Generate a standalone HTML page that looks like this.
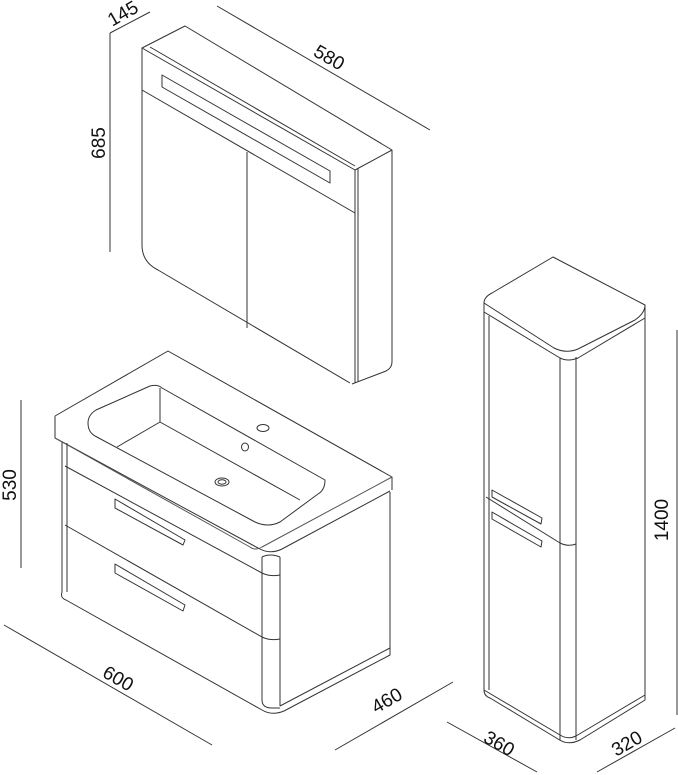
<!DOCTYPE html>
<html><head><meta charset="utf-8"><style>
html,body{margin:0;padding:0;background:#fff;}
svg{display:block}
text{font-family:"Liberation Sans",sans-serif;font-size:19px;fill:#111;}
</style></head><body>
<svg width="678" height="775" viewBox="0 0 678 775" xmlns="http://www.w3.org/2000/svg">
<g fill="none" stroke="#333" stroke-width="1" stroke-linejoin="round">
<!-- Mirror cabinet -->
<path d="M142,48 L185,26 L392,150 L355,170 Z"/>
<path d="M150,47 L355,166"/>
<path d="M142,48 L142,245 Q142,262 158,270 L350,383"/>
<path d="M355,170 L355,383"/>
<path d="M358,168 L358,382"/>
<path d="M392,150 L392,362 Q392,368 386,371 L352,384"/>
<path d="M162,75 L162,87 L330,183 L330,171 Z"/>
<path d="M142,90 L355,213"/>
<path d="M247,152 L247,328"/>
<!-- 145 / 685 / 580 dims -->
<path d="M110,33 L110,252"/>
<path d="M110,33 L150,12"/>
<path d="M217,6 L430,130"/>
<!-- Vanity -->
<path d="M55,416 L168,351 L392,477 L392,490"/>
<path d="M55,416 L55,438 L258,548 Q270,555 282,549 L390,491"/>
<path d="M392,477 L262,547 Q255,551 250,547 L55,438" stroke="#555"/>
<path d="M88,423 Q88,415 96,410 L150,386 Q158,384 162,388 L325,480 Q325,490 318,494 L280,522 Q268,528 255,522 L95,436 Q88,432 88,423 Z"/>
<path d="M117,447 L160,422 L160,388"/>
<path d="M160,422 L300,500"/>
<ellipse cx="263" cy="428" rx="6" ry="3.5"/>
<ellipse cx="245" cy="447" rx="3.5" ry="4"/>
<ellipse cx="222" cy="482" rx="7" ry="4"/>
<ellipse cx="222" cy="482" rx="4" ry="2.2"/>
<path d="M62,442 L62,592"/>
<path d="M67,443 L67,592"/>
<path d="M65,466 L262,573"/>
<path d="M65,525 L262,637"/>
<path d="M262,557 L262,700 Q262,708 272,708 L280,708"/>
<path d="M280,557 L280,706"/>
<path d="M262,557 Q270,553 280,557"/>
<path d="M262,573 Q270,577 280,575"/>
<path d="M262,637 Q270,641 280,639"/>
<path d="M62,592 Q60,598 66,600 L262,710 Q272,716 284,711 L390,655 L390,648"/>
<path d="M390,492 L390,648 L280,706"/>
<path d="M115,499 L115,508 L183,545 L185,540 Z"/>
<path d="M115,564 L115,573 L183,611 L185,605 Z"/>
<!-- 530 / 600 / 460 dims -->
<path d="M21,400 L21,568"/>
<path d="M4,625 L212,745"/>
<path d="M335,750 L453,682"/>
<!-- Tall cabinet -->
<path d="M484,303 Q484,297 492,293 L553,257 L645,305 Q645,313 635,320 L578,349 Q566,354 554,348 Z"/>
<path d="M484,303 L484,312 L560,358 Q568,362 578,358 L645,318 L645,305"/>
<path d="M484,312 L484,690 Q484,696 490,698 L558,739 Q568,746 580,740 L645,700 L645,318"/>
<path d="M489,316 L489,690"/>
<path d="M560,358 L560,740"/>
<path d="M576,357 L576,740"/>
<path d="M484,690 L560,735 Q568,740 576,736 L645,695"/>
<path d="M486,497 L560,543 Q568,547 576,544"/>
<path d="M492,490 L492,497 L541,524 L542,518 Z"/>
<path d="M492,512 L492,519 L541,547 L542,541 Z"/>
<path d="M677,330 L677,715"/>
<path d="M447,722 L537,772"/>
<path d="M597,772 L675,728"/>
</g>
<text x="0" y="0" text-anchor="middle" transform="translate(126,19) rotate(-30)">145</text>
<text x="0" y="0" text-anchor="middle" transform="translate(105,143) rotate(-90)">685</text>
<text x="0" y="0" text-anchor="middle" transform="translate(326,63) rotate(30)">580</text>
<text x="0" y="0" text-anchor="middle" transform="translate(16,485) rotate(-90)">530</text>
<text x="0" y="0" text-anchor="middle" transform="translate(115,684) rotate(30)">600</text>
<text x="0" y="0" text-anchor="middle" transform="translate(390,706) rotate(-30)">460</text>
<text x="0" y="0" text-anchor="middle" transform="translate(668,520) rotate(-90)">1400</text>
<text x="0" y="0" text-anchor="middle" transform="translate(496,749) rotate(30)">360</text>
<text x="0" y="0" text-anchor="middle" transform="translate(630,749) rotate(-30)">320</text>
</svg>
</body></html>
